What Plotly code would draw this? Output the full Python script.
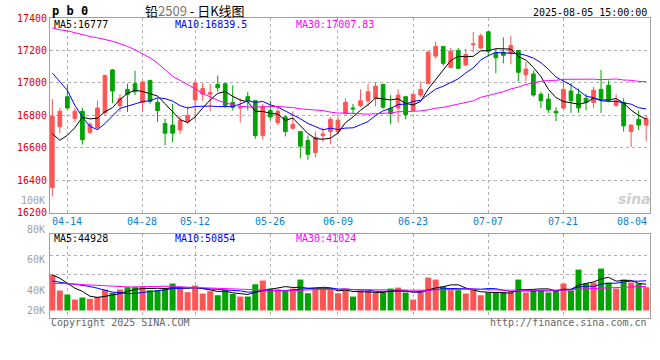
import plotly.graph_objects as go

# ---------------- data ----------------
dates = ["04-10", "04-11",
         "04-14", "04-15", "04-16", "04-17", "04-18",
         "04-21", "04-22", "04-23", "04-24", "04-25",
         "04-28", "04-29", "04-30",
         "05-06", "05-07", "05-08", "05-09",
         "05-12", "05-13", "05-14", "05-15", "05-16",
         "05-19", "05-20", "05-21", "05-22", "05-23",
         "05-26", "05-27", "05-28", "05-29", "05-30",
         "06-03", "06-04", "06-05", "06-06",
         "06-09", "06-10", "06-11", "06-12", "06-13",
         "06-16", "06-17", "06-18", "06-19", "06-20",
         "06-23", "06-24", "06-25", "06-26", "06-27",
         "06-30", "07-01", "07-02", "07-03", "07-04",
         "07-07", "07-08", "07-09", "07-10", "07-11",
         "07-14", "07-15", "07-16", "07-17", "07-18",
         "07-21", "07-22", "07-23", "07-24", "07-25",
         "07-28", "07-29", "07-30", "07-31", "08-01",
         "08-04", "08-05"]

open_ = [16355, 16730, 16915, 16780, 16825, 16695, 16725, 16815, 17080, 16860,
         16960, 16995, 16880, 17015, 16880, 16750, 16740, 16710, 16760, 16895,
         16930, 16930, 16990, 16995, 16880, 16845, 16915, 16890, 16675, 16830,
         16755, 16790, 16720, 16700, 16645, 16570, 16675, 16700, 16700, 16810,
         16845, 16860, 16890, 16905, 16990, 16845, 16845, 16915, 16830, 16925,
         16995, 17165, 17225, 17095, 17200, 17110, 17235, 17215, 17315, 17185,
         17190, 17180, 17200, 17050, 17055, 16930, 16900, 16825, 16845, 16950,
         16930, 16905, 16880, 16960, 16985, 16860, 16880, 16700, 16775, 16740]
high = [16900, 16845, 16990, 16845, 16845, 16760, 16890, 17050, 17085, 16930,
        16995, 17075, 17015, 17020, 16905, 16780, 16870, 16795, 16855, 17015,
        17000, 16995, 17045, 16995, 16985, 16905, 16945, 16895, 16870, 16890,
        16845, 16800, 16825, 16700, 16675, 16700, 16725, 16790, 16790, 16905,
        16870, 16960, 16995, 17005, 16995, 16925, 16960, 16920, 16935, 17010,
        17195, 17255, 17225, 17215, 17215, 17210, 17315, 17305, 17320, 17210,
        17280, 17290, 17200, 17130, 17075, 16945, 16935, 16850, 17010, 17000,
        16965, 16930, 16975, 17080, 17015, 16930, 16905, 16745, 16830, 16800]
low = [16300, 16690, 16840, 16760, 16620, 16685, 16710, 16800, 16875, 16820,
       16820, 16925, 16820, 16870, 16760, 16615, 16635, 16685, 16745, 16770,
       16890, 16825, 16945, 16845, 16830, 16755, 16830, 16655, 16650, 16770,
       16740, 16670, 16710, 16535, 16525, 16540, 16635, 16620, 16685, 16805,
       16810, 16850, 16855, 16855, 16840, 16745, 16755, 16775, 16825, 16910,
       16995, 17150, 17105, 17090, 17085, 17105, 17190, 17210, 17170, 17060,
       17120, 17115, 17010, 17010, 16915, 16845, 16815, 16765, 16840, 16815,
       16815, 16830, 16845, 16815, 16880, 16855, 16700, 16605, 16710, 16640]
close = [16795, 16825, 16845, 16825, 16650, 16745, 16845, 17045, 16950, 16905,
         16930, 16945, 17005, 16885, 16830, 16690, 16690, 16770, 16800, 17000,
         16965, 16940, 16970, 16860, 16850, 16850, 16890, 16675, 16855, 16790,
         16825, 16700, 16745, 16610, 16560, 16665, 16685, 16775, 16770, 16880,
         16840, 16890, 16945, 16980, 16850, 16810, 16925, 16805, 16930, 16960,
         17190, 17225, 17120, 17195, 17090, 17175, 17240, 17290, 17195, 17155,
         17170, 17230, 17065, 17085, 16925, 16890, 16835, 16815, 16960, 16890,
         16845, 16880, 16955, 16905, 16890, 16890, 16735, 16740, 16740, 16780]

ma5 = [16687, 16646, 16677, 16724, 16788, 16778, 16782, 16822, 16847, 16898,
       16935, 16955, 16947, 16934, 16919, 16871, 16820, 16773, 16756, 16790,
       16845, 16895, 16935, 16947, 16917, 16894, 16884, 16825, 16824, 16812,
       16807, 16769, 16783, 16734, 16688, 16656, 16653, 16659, 16691, 16755,
       16790, 16831, 16865, 16907, 16901, 16895, 16902, 16874, 16864, 16886,
       16962, 17022, 17085, 17138, 17164, 17161, 17164, 17198, 17198, 17211,
       17210, 17208, 17163, 17141, 17095, 17039, 16960, 16910, 16885, 16878,
       16869, 16878, 16906, 16895, 16895, 16904, 16875, 16832, 16799, 16777]
ma10 = [17061, 17005, 16954, 16862, 16790, 16732, 16712, 16749, 16794, 16843,
        16856.5, 16868.5, 16884.5, 16890.5, 16908.5, 16903, 16887.5, 16860, 16845, 16854.5,
        16858, 16857.5, 16854, 16851.5, 16853.5, 16869.5, 16889.5, 16880, 16885.5, 16864.5,
        16850.5, 16826.5, 16804, 16779, 16750, 16731.5, 16711, 16721, 16712.5, 16721.5,
        16723, 16742, 16762, 16799, 16828, 16842.5, 16866.5, 16869.5, 16885.5, 16893.5,
        16928.5, 16962, 16979.5, 17001, 17025, 17061.5, 17093, 17141.5, 17168, 17187.5,
        17185.5, 17186, 17180.5, 17169.5, 17153, 17124.5, 17084, 17036.5, 17013, 16986.5,
        16954, 16919, 16908, 16890, 16886.5, 16886.5, 16876.5, 16869, 16847, 16839.5]
ma30 = [17339, 17327, 17321, 17309, 17298, 17286, 17278, 17268, 17257, 17241,
        17225, 17204, 17180, 17155, 17122, 17081, 17040, 17015, 16991, 16964,
        16935, 16912, 16893, 16876, 16864, 16856, 16852, 16851, 16852, 16854,
        16855, 16851, 16848, 16840, 16837, 16835, 16829, 16820, 16814, 16814,
        16811, 16809, 16807, 16810, 16811, 16815, 16822, 16824, 16828, 16827,
        16834, 16844, 16849, 16860, 16868, 16879, 16890, 16911, 16922, 16934,
        16946, 16963, 16974, 16990, 17002, 17010, 17015, 17016, 17022, 17023,
        17023, 17022, 17023, 17020, 17022, 17024, 17018, 17016, 17009, 17008]

volume = [61000, 34200, 27400, 18800, 22200, 20000, 23400, 35900, 30200, 35900,
          39900, 39900, 41000, 34800, 34800, 37600, 46200, 40500, 31400, 42800,
          29100, 33100, 26200, 34800, 28500, 23900, 23900, 45000, 51300, 37600,
          36500, 34200, 37600, 53000, 29600, 36500, 36500, 35300, 29600, 37600,
          23900, 34200, 34200, 30800, 30800, 37600, 39300, 30800, 18800, 34200,
          56400, 53000, 41000, 34800, 34800, 29100, 35900, 26200, 30800, 30800,
          30800, 30800, 53000, 30800, 35900, 34800, 30800, 34800, 46200, 34200,
          70100, 46200, 47900, 71800, 47900, 37600, 53000, 47900, 46200, 39900]
vol_ma5 = [61000, 55300, 46700, 38200, 32720, 24520, 22360, 24060, 26340, 29080,
           33060, 36360, 37380, 38300, 38080, 37620, 38880, 38780, 38100, 39700,
           38000, 35380, 32520, 33200, 30340, 29300, 27460, 31220, 34520, 36340,
           38860, 40920, 39440, 39780, 38180, 38180, 38640, 38180, 33500, 35100,
           32580, 32120, 31900, 32140, 30780, 33520, 34540, 33860, 31460, 32140,
           35900, 38640, 40680, 43880, 44000, 38540, 35120, 32160, 31360, 30560,
           30900, 29880, 35240, 35240, 36260, 37060, 37060, 33420, 36500, 36160,
           43220, 46300, 48920, 54040, 56780, 50280, 51640, 51640, 46520, 44928]
vol_ma10 = [50700, 47900, 46200, 45000, 43300, 41000, 38200, 34200, 31400, 30900,
            28790, 29360, 30720, 32320, 33580, 35340, 37620, 38080, 38200, 38890,
            37810, 37130, 35650, 35650, 35020, 33650, 31420, 31870, 33860, 33340,
            34080, 34190, 35330, 37150, 37260, 38520, 39780, 38810, 36640, 36640,
            35380, 35380, 35040, 32820, 32940, 33050, 33330, 32880, 31800, 31460,
            34710, 36590, 37270, 37670, 38070, 37220, 36880, 36420, 37620, 37280,
            34720, 32500, 33700, 33300, 33410, 33980, 33470, 34330, 35870, 36210,
            40140, 41680, 41170, 45270, 46470, 46750, 48970, 50280, 50280, 50854]
vol_ma30 = [46700, 46500, 46000, 45300, 44400, 43600, 42800, 42000, 41300, 40800,
            40500, 40500, 40800, 41600, 42000, 41600, 41000, 40500, 40000, 39000,
            38200, 37600, 37000, 36500, 36000, 35500, 35000, 34600, 34400, 34380,
            33560, 33560, 33900, 35040, 35290, 35840, 36270, 36250, 36230, 36290,
            35760, 35570, 35340, 35210, 35070, 35070, 34840, 34520, 34100, 33810,
            34720, 35390, 35880, 35880, 36090, 36260, 36660, 36040, 35350, 35130,
            34940, 34820, 35340, 34600, 34810, 34750, 34560, 34540, 35100, 34980,
            36520, 36920, 37380, 38750, 39320, 39320, 39770, 40340, 41260, 41024]

date_ticks = ["04-14", "04-28", "05-12", "05-26", "06-09", "06-23", "07-07", "07-21", "08-04"]
price_ticks = [16200, 16400, 16600, 16800, 17000, 17200, 17400]
vol_labels = ["100K", "80K", "60K", "40K", "20K"]

# ---------------- styling ----------------
RED = "#ff5555"
GREEN = "#00a400"
MONO = "DejaVu Sans Mono, monospace"
GRID = "#b0b0b0"
BORDER = "#a0a0a0"

x = list(range(len(dates)))
bar_colors = [RED if c >= o else GREEN for o, c in zip(open_, close)]

# plot area in pixels: x 50..650, y 18..318.5
L, R, T, B = 50, 650, 18, 318.5
def px(xp):
    return (xp - L) / (R - L)
def py(yp):
    return (B - yp) / (B - T)

main_dom = [py(213), 1]
vol_dom = [0, py(234.3)]
# volume scale: 0 at y=311, 0.585 px per 1000
vol_lo = -(B - 311) / 0.585 * 1000
vol_hi = (311 - 234.3) / 0.585 * 1000

fig = go.Figure()
fig.add_trace(go.Candlestick(
    x=x, open=open_, high=high, low=low, close=close,
    increasing=dict(line=dict(color=RED, width=1), fillcolor=RED),
    decreasing=dict(line=dict(color=GREEN, width=1), fillcolor=GREEN),
    whiskerwidth=0, hoverinfo="skip", xaxis="x", yaxis="y"))
for arr, col in [(ma5, "#000000"), (ma10, "#0000ff"), (ma30, "#ff00ff")]:
    fig.add_trace(go.Scatter(x=x, y=arr, mode="lines", line=dict(color=col, width=1),
                             hoverinfo="skip", xaxis="x", yaxis="y"))
fig.add_trace(go.Bar(x=x, y=volume, marker=dict(color=bar_colors, line=dict(width=0)),
                     hoverinfo="skip", xaxis="x2", yaxis="y2"))
for arr, col in [(vol_ma5, "#000000"), (vol_ma10, "#0000ff"), (vol_ma30, "#ff00ff")]:
    fig.add_trace(go.Scatter(x=x, y=arr, mode="lines", line=dict(color=col, width=1),
                             hoverinfo="skip", xaxis="x2", yaxis="y2"))

grid_idx = [dates.index(d) for d in date_ticks[:-1]]
xr = [-0.31, len(dates) - 0.49]
axis_common = dict(showline=True, linecolor=BORDER, linewidth=1, mirror=True,
                   zeroline=False, griddash="dot", gridcolor=GRID, gridwidth=1)

fig.update_layout(
    width=660, height=360,
    margin=dict(l=L, r=660 - R, t=T, b=360 - B),
    paper_bgcolor="white", plot_bgcolor="white",
    showlegend=False, bargap=0.2,
    xaxis=dict(domain=[0, 1], range=xr, anchor="y", tickvals=grid_idx, showticklabels=False,
               showgrid=True, rangeslider=dict(visible=False), **axis_common),
    xaxis2=dict(domain=[0, 1], range=xr, anchor="y2", matches="x", tickvals=grid_idx,
                showticklabels=False, showgrid=True, **axis_common),
    yaxis=dict(domain=main_dom, range=[16200, 17400], tickvals=price_ticks,
               ticktext=[str(v) for v in price_ticks], showgrid=True,
               tickfont=dict(family=MONO, size=10, color="#e00000"), ticks="", **axis_common),
    yaxis2=dict(domain=vol_dom, range=[vol_lo, vol_hi],
                tickvals=[(311 - 256) / 0.585 * 1000, (311 - 275.3) / 0.585 * 1000],
                showticklabels=False, showgrid=True, **axis_common),
)

ann = []
def add(text, xp, yp, anchor="left", color="#000", size=10, family=MONO, **kw):
    ann.append(dict(text=text, x=px(xp), y=py(yp), xref="paper", yref="paper",
                    xanchor=anchor, yanchor="middle", showarrow=False,
                    font=dict(family=family, size=size, color=color), **kw))

# date labels
for d in date_ticks:
    i = dates.index(d)
    cx = 52.3 + i * 7.511
    if d == date_ticks[-1]:
        add(d, 649, 222, anchor="right", color="#0a7fd0")
    else:
        add(d, cx, 222, anchor="center", color="#0a7fd0")

# volume labels (placed as in the picture)
for lab, yp in zip(vol_labels, [200.7, 230.3, 260.3, 291, 311]):
    add(lab, 47, yp, anchor="right", color="#a0a0a0")

# titles
add("<b>p b 0</b>", 50, 11, anchor="left", size=12)
add("铅<span style='color:#777'>2509</span> - 日K线图", 195, 10, anchor="center",
    size=13, family="Noto Sans CJK SC, sans-serif")
add("2025-08-05 15:00:00", 649, 12, anchor="right")

# MA legends
add("MA5:16777", 52, 25)
add("MA10:16839.5", 173, 25, color="#0000ff")
add("MA30:17007.83", 294, 25, color="#ff00ff")
add("MA5:44928", 52, 238.5)
add("MA10:50854", 173, 238.5, color="#0000ff")
add("MA30:41024", 294, 238.5, color="#ff00ff")

# footer
add("Copyright 2025 SINA.COM", 49, 323, color="#666")
add("http://finance.sina.com.cn", 649, 323, anchor="right", color="#666")

# watermark
add("<i><b>sina</b></i>", 634, 199, anchor="center", color="#cfcfcf", size=14,
    family="DejaVu Sans, sans-serif")

fig.update_layout(annotations=ann)
fig.write_html("out.html", config={"displayModeBar": False},
               post_script="document.body.style.margin='0px';")
